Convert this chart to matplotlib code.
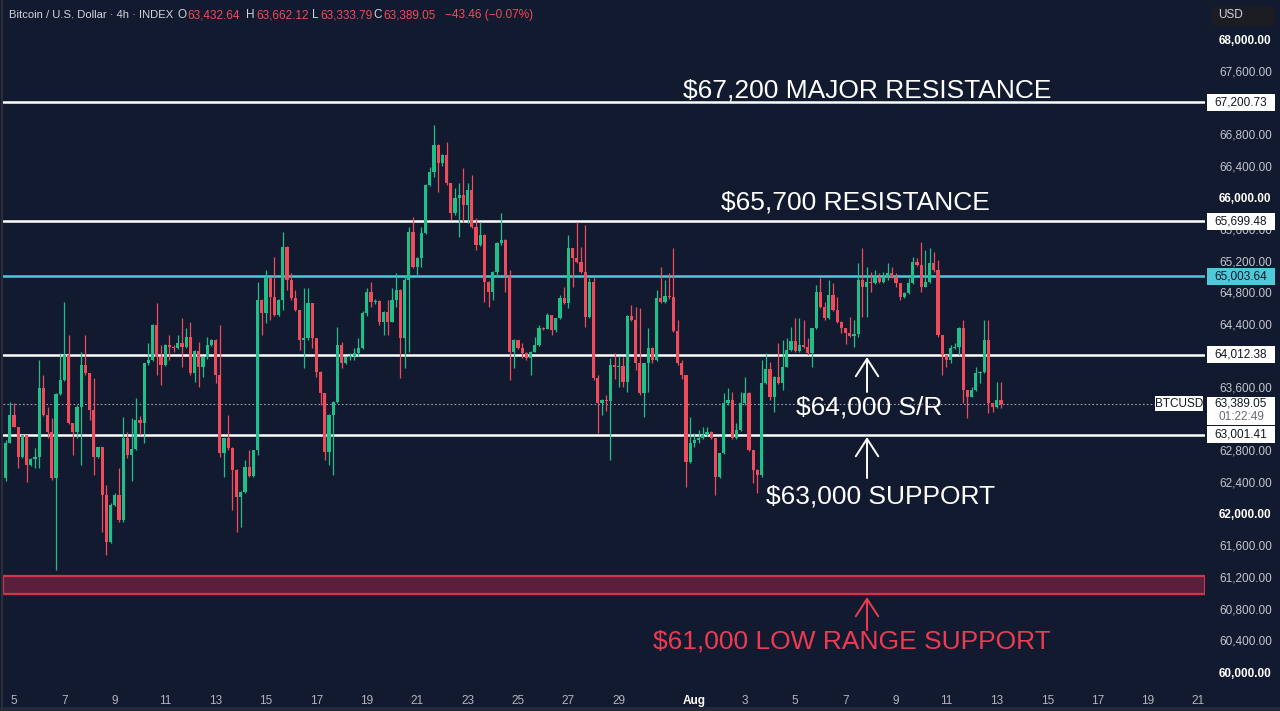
import numpy as np
import pandas as pd
import matplotlib
matplotlib.use("Agg")
import matplotlib.pyplot as plt
import matplotlib.transforms as mtransforms
from matplotlib.patches import Rectangle, FancyBboxPatch
from matplotlib.lines import Line2D

plt.rcParams['font.family'] = ['Liberation Sans', 'DejaVu Sans']

# 4h candles, last one opens 2024-08-13 04:00
first_open = 62447
closes = [
    62890, 63248, 63100, 62721, 62995, 62616, 62687, 62721, 63585, 63248,
    63037, 62447, 63513, 63690, 64006, 63143, 63037, 63353, 63880, 63774,
    63311, 62721, 62839, 62237, 61647, 62110, 62237, 61921, 62953, 62742,
    62818, 63185, 63143, 63901, 63943, 64387, 63985, 63880, 64132, 64111,
    64090, 64154, 64111, 64237, 63774, 64061, 63858, 63976, 64132, 64195,
    63753, 62763, 62953, 62826, 62552, 62215, 62278, 62594, 62476, 62805,
    64701, 64532, 64975, 64743, 64511, 64701, 65375, 64954, 64722, 64575,
    64195, 64216, 64659, 64216, 63795, 63521, 62784, 63247, 63416, 64132,
    63900, 63985, 63995, 64027, 64090, 64533, 64806, 64680, 64690, 64427,
    64554, 64427, 64701, 64827, 64217, 64954, 65565, 65122, 65228, 65544,
    66155, 66323, 66660, 66428, 66534, 66176, 65796, 65986, 66028, 65902,
    66091, 65628, 65396, 65523, 64933, 64806, 65059, 65417, 65459, 65017,
    64048, 64196, 64100, 64027, 63964, 64049, 64133, 64343, 64340, 64512,
    64322, 64470, 64723, 64660, 65354, 65228, 65186, 65060, 64491, 64933,
    63711, 63396, 63438, 63420, 63880, 63850, 63870, 63669, 64499, 64449,
    63901, 63522, 63901, 64091, 63943, 64723, 64680, 64752, 64735, 64314,
    63901, 63754, 62658, 62890, 62932, 62953, 62995, 63037, 62953, 62468,
    62763, 63395, 63437, 62953, 63058, 63395, 63522, 62805, 62553, 62489,
    63648, 63825, 63480, 63732, 63648, 63859, 64069, 64183, 64061, 64132,
    64111, 64027, 64343, 64807, 64617, 64470, 64765, 64575, 64427, 64343,
    64280, 64246, 64270, 64954, 64870, 64933, 64912, 64996, 64933, 64975,
    65038, 64996, 64912, 64743, 64786, 64912, 65186, 65144, 64870, 64933,
    65165, 65080, 64259, 64006, 63943, 64090, 64111, 64343, 63564, 63480,
    63564, 63775, 63790, 64196, 63395, 63353, 63432.64, 63389.05,
]
highs = [
    62930, 63416, 63395, 63100, 63000, 63000, 62700, 62827, 63943, 63753,
    63353, 63206, 63530, 64027, 64680, 64259, 63143, 63370, 64048, 64259,
    63780, 63711, 62850, 62840, 62363, 62130, 62260, 62574, 63227, 63037,
    63206, 63459, 63230, 63910, 64154, 64400, 64660, 64132, 64140, 64259,
    64132, 64259, 64469, 64343, 64427, 64070, 64174, 63990, 64237, 64210,
    64210, 64385, 62960, 63247, 62850, 62560, 62290, 62679, 62800, 62810,
    64933, 64710, 65080, 64990, 65249, 64710, 65565, 65380, 65038, 64827,
    64580, 64848, 64848, 64670, 64220, 63800, 63530, 63260, 63430, 64364,
    64174, 64000, 64027, 64090, 64217, 64560, 64848, 64933, 64720, 64701,
    64560, 64701, 64848, 65038, 64840, 65017, 65628, 65754, 65240, 65628,
    66170, 66386, 66913, 66670, 66550, 66702, 66180, 66112, 66176, 66365,
    66176, 66281, 65733, 65691, 65530, 64940, 65070, 65430, 65796, 65470,
    65080, 64210, 64200, 64154, 64040, 64060, 64238, 64385, 64364, 64533,
    64510, 64480, 64765, 64870, 65523, 65360, 65692, 65376, 65649, 64975,
    64996, 63754, 63450, 63500, 63964, 64027, 64000, 63985, 64510, 64638,
    64617, 64596, 63910, 64343, 64112, 64828, 65123, 64954, 65039, 65354,
    64449, 63943, 63760, 63227, 63016, 63058, 63100, 63100, 63040, 62960,
    62770, 63522, 63585, 63543, 63142, 63543, 63732, 63543, 62810, 62560,
    63943, 64027, 63922, 63740, 64154, 64196, 64217, 64364, 64470, 64470,
    64449, 64217, 64350, 64891, 64975, 64680, 64954, 64912, 64743, 64440,
    64350, 64491, 64449, 65165, 65354, 65123, 65059, 65080, 65038, 65059,
    65165, 65123, 65040, 64920, 64800, 64975, 65249, 65228, 65439, 65333,
    65354, 65312, 65207, 64246, 64010, 64132, 64154, 64364, 64449, 63570,
    63606, 63859, 63800, 64449, 64449, 63400, 63669, 63662.12,
]
lows = [
    62420, 62890, 63100, 62574, 62700, 62405, 62600, 62574, 62574, 63230,
    62953, 62430, 61289, 63500, 63680, 63130, 62742, 62953, 62616, 63760,
    63185, 62489, 62700, 61773, 61478, 61630, 62100, 61900, 61900, 62700,
    62420, 62800, 62995, 62890, 63880, 63930, 63753, 63627, 63870, 63943,
    64050, 64080, 63858, 64100, 63760, 63669, 63605, 63732, 63960, 64120,
    63648, 62721, 62468, 62800, 62047, 61773, 61836, 62260, 62460, 62468,
    62742, 64259, 64406, 64448, 64500, 64500, 64575, 64827, 64700, 64560,
    64069, 63837, 64200, 64090, 63732, 63374, 62679, 62615, 62489, 63400,
    63837, 63890, 63943, 63943, 64000, 64080, 64500, 64617, 64650, 64380,
    64259, 64259, 64420, 64617, 63711, 63837, 64048, 65100, 65017, 65122,
    65530, 66140, 66260, 66070, 66400, 66160, 65712, 65780, 65501, 65691,
    65670, 65610, 65333, 65380, 64680, 64617, 64701, 64990, 65400, 64806,
    63690, 63837, 64080, 63964, 63943, 63754, 64040, 64120, 64320, 64330,
    64259, 64300, 64460, 64650, 64596, 64870, 65170, 65040, 64364, 64480,
    63690, 63016, 63250, 63300, 62679, 63700, 63600, 63600, 63543, 64430,
    63817, 63500, 63227, 63543, 63901, 63930, 64670, 64670, 64720, 64300,
    63880, 63700, 62342, 62637, 62850, 62900, 62940, 62980, 62940, 62237,
    62447, 62750, 63380, 62940, 62940, 63040, 63380, 62790, 62384, 62258,
    62468, 63640, 63437, 63290, 63640, 63564, 63850, 64060, 64050, 64050,
    64100, 64010, 63859, 64330, 64600, 64450, 64460, 64560, 64410, 64280,
    64150, 64230, 64111, 64238, 64491, 64491, 64807, 64900, 64920, 64912,
    64960, 64980, 64870, 64701, 64722, 64780, 64900, 65130, 64807, 64860,
    64920, 65060, 64238, 63753, 63859, 63901, 64080, 64006, 63395, 63206,
    63470, 63550, 63648, 63780, 63269, 63290, 63332, 63333.79,
]

levels_white = [67200.73, 65699.48, 64012.38, 63001.41]
level_cyan = 65003.64
last_price = 63389.05
zone_low, zone_high = 60990, 61210

july_days = [5, 7, 9, 11, 13, 15, 17, 19, 21, 23, 25, 27, 29]
aug_days = [1, 3, 5, 7, 9, 11, 13, 15, 17, 19, 21]
hidden_ticks = [67200, 65000, 64000, 63200, 63000]   # covered by price tags

BG = '#121a30'
GREEN = '#1fbf8a'
RED = '#f04b5b'
CYAN = '#4fc8da'
TXT = '#b2b5be'

closes = np.array(closes)
opens = np.concatenate([[first_open], closes[:-1]])
highs = np.array(highs)
lows = np.array(lows)

times = pd.date_range(end='2024-08-13 04:00', periods=len(closes), freq='4h')
t = ((times - pd.Timestamp('2024-07-01')) / pd.Timedelta('1D')).values

fig = plt.figure(figsize=(12.8, 7.11), dpi=100, facecolor=BG)
ax = fig.add_axes([3 / 1280, 26 / 711, 1202 / 1280, 685 / 711])
ax.set_facecolor(BG)
for s in ax.spines.values():
    s.set_visible(False)
ax.set_xlim(3.5635, 51.262)
ax.set_ylim(59836, 68493)

up = closes >= opens
col = np.where(up, GREEN, RED)
top = np.maximum(np.maximum(opens, closes), highs)
bot = np.minimum(np.minimum(opens, closes), lows)
ax.vlines(t, bot, top, colors=col, lw=0.9, zorder=3)
body = np.maximum(np.abs(closes - opens), 12)
ax.bar(t, body, bottom=np.minimum(opens, closes), width=0.12, color=col,
       linewidth=0, zorder=4)

# уровни
for lv in levels_white:
    ax.axhline(lv, color='white', lw=1.8, zorder=2)
ax.axhline(level_cyan, color=CYAN, lw=1.8, zorder=2)
ax.axhline(last_price, color='#9aa0ad', lw=0.8, ls=(0, (1.5, 2)), zorder=2)
ax.axhspan(zone_low, zone_high, facecolor='#5a1f3a', edgecolor='#d3334b',
           lw=1.6, zorder=2)

# подписи
big = dict(fontsize=19, ha='center', va='center', zorder=6)
ax.text(37.85, 67343, '$67,200 MAJOR RESISTANCE', color='white', **big)
ax.text(37.41, 65940, '$65,700 RESISTANCE', color='white', **big)
ax.text(37.93, 63349, '$64,000 S/R', color='white', **big)
ax.text(38.37, 62224, '$63,000 SUPPORT', color='white', **big)
ax.text(37.25, 60392, '$61,000 LOW RANGE SUPPORT', color='#ee3a52', **big)

arr = dict(arrowstyle='->,head_length=0.7,head_width=0.45', lw=1.4,
           mutation_scale=18, shrinkA=0, shrinkB=0)
ax.annotate('', xy=(37.85, 63981), xytext=(37.85, 63539),
            arrowprops=dict(color='white', **arr), zorder=6)
ax.annotate('', xy=(37.85, 62970), xytext=(37.85, 62452),
            arrowprops=dict(color='white', **arr), zorder=6)
ax.annotate('', xy=(37.85, 60948), xytext=(37.85, 60530),
            arrowprops=dict(color='#ee3a52', **arr), zorder=6)

# ось времени
xt = [d - 1 for d in july_days] + [30 + d for d in aug_days]
xl = [str(d) for d in july_days] + ['Aug' if d == 1 else str(d) for d in aug_days]
ax.set_xticks(xt)
ax.set_xticklabels(xl)
ax.tick_params(axis='x', length=0, pad=7, labelsize=8.5, labelcolor=TXT)
for lab in ax.get_xticklabels():
    if lab.get_text() == 'Aug':
        lab.set_color('white')
        lab.set_fontweight('bold')

# ось цены
yt = np.arange(60000, 68001, 400)
ax.yaxis.tick_right()
ax.set_yticks(yt)
ax.set_yticklabels(['' if v in hidden_ticks else '{:,.2f}'.format(v) for v in yt])
ax.tick_params(axis='y', length=0, pad=10, labelsize=8.5, labelcolor='#c3c6ce')
for lab, v in zip(ax.get_yticklabels(), yt):
    if v % 2000 == 0:
        lab.set_fontweight('bold')
        lab.set_color('white')

# ценовые метки
tr = mtransforms.blended_transform_factory(fig.transFigure, ax.transData)
px = 12.638
def tag(price, text, fc, tc='#131722'):
    fig.add_artist(Rectangle((1207 / 1280, price - 8.5 * px), 68 / 1280, 17 * px,
                             transform=tr, facecolor=fc, edgecolor='none', zorder=10))
    fig.text(1241 / 1280, price, text, transform=tr, ha='center', va='center',
             fontsize=8.5, color=tc, zorder=11)

for lv in levels_white:
    tag(lv, '{:,.2f}'.format(lv), 'white')
tag(level_cyan, '{:,.2f}'.format(level_cyan), CYAN)

fig.add_artist(Rectangle((1207 / 1280, last_price - 21 * px), 68 / 1280, 28 * px,
                         transform=tr, facecolor='white', edgecolor='none', zorder=10))
fig.text(1241 / 1280, last_price, '{:,.2f}'.format(last_price), transform=tr,
         ha='center', va='center', fontsize=8.5, color='#131722', zorder=11)
fig.text(1241 / 1280, last_price - 13.5 * px, '01:22:49', transform=tr,
         ha='center', va='center', fontsize=8.5, color='#6a6d78', zorder=11)
fig.add_artist(Rectangle((1155 / 1280, last_price - 7.5 * px), 48 / 1280, 15 * px,
                         transform=tr, facecolor='white', edgecolor='none', zorder=10))
fig.text(1179 / 1280, last_price, 'BTCUSD', transform=tr, ha='center',
         va='center', fontsize=8.5, color='#131722', zorder=11)

# USD
fig.add_artist(FancyBboxPatch((1212 / 1280, 1 - 26 / 711), 62 / 1280, 20 / 711,
                              boxstyle='round,pad=0,rounding_size=0.004',
                              transform=fig.transFigure, facecolor='#1c1d22',
                              edgecolor='none', zorder=10))
fig.text(1218 / 1280, 1 - 15.5 / 711, 'USD', fontsize=8.5, color='#d1d4dc',
         va='center', zorder=11)

# заголовок
hy = 1 - 15 / 711
fig.text(9 / 1280, hy, 'Bitcoin / U.S. Dollar · 4h · INDEX', fontsize=8.1,
         color='#d1d4dc', va='center', zorder=11)
hdr = [(177, 'O', '#d1d4dc'), (187, '63,432.64', RED),
       (246, 'H', '#d1d4dc'), (256, '63,662.12', RED),
       (312, 'L', '#d1d4dc'), (320, '63,333.79', RED),
       (373, 'C', '#d1d4dc'), (383, '63,389.05', RED),
       (445, '\u221243.46 (\u22120.07%)', RED)]
for x0, s, c in hdr:
    fig.text(x0 / 1280, hy, s, fontsize=8.5, color=c, va='center', zorder=11)

# рамка
fig.add_artist(Line2D([1.5 / 1280, 1.5 / 1280], [0, 1], color='#2a2e39', lw=1.5))
fig.add_artist(Rectangle((0, 0), 1, 4 / 711, transform=fig.transFigure,
                         facecolor='#23283a', edgecolor='none'))

fig.savefig('out.png', dpi=100, facecolor=BG)
